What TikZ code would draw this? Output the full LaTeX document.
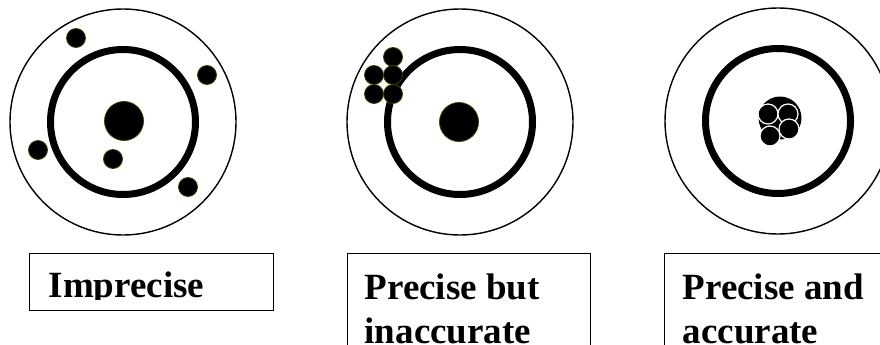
\documentclass[tikz,border=0pt]{standalone}
\usepackage{fontspec}
\setmainfont{Liberation Serif}
\definecolor{rimolive}{HTML}{3F3F00}

\begin{document}
\begin{tikzpicture}[x=1pt, y=-1pt,
    ring/.style={draw, line width=1.4pt},
    bull/.style={draw, line width=7pt},
    centre/.style={circle, fill=black, draw=rimolive, line width=0.8pt, inner sep=0pt, minimum size=39pt},
    shot/.style={circle, fill=black, draw=rimolive, line width=0.8pt, inner sep=0pt, minimum size=19pt},
    hit/.style={circle, fill=black, draw=white, line width=1.2pt, inner sep=0pt, minimum size=20pt},
    tag/.style={draw, line width=1.4pt, inner sep=0pt, anchor=north west},
    lab/.style={anchor=base west, inner sep=0pt, font=\fontsize{37}{44}\selectfont\bfseries}]

  \clip (0,0) rectangle (880,345);

  % three targets
  \coordinate (tgtA) at (123,122);
  \coordinate (tgtB) at (460,122);
  \coordinate (tgtC) at (778,121);
  \foreach \t in {tgtA,tgtB,tgtC} {
    \draw[ring] (\t) circle[radius=113];
    \draw[bull] (\t) circle[radius=72.5];
  }

  % imprecise
  \node[centre] (midA) at (124,121) {};
  \node[shot] (a1) at (76,38) {};
  \node[shot] (a2) at (207,75) {};
  \node[shot] (a3) at (38,150) {};
  \node[shot] (a4) at (113,159) {};
  \node[shot] (a5) at (188,187) {};

  % precise but inaccurate
  \node[centre] (midB) at (459,122) {};
  \node[shot] (b1) at (393,57) {};
  \node[shot] (b2) at (374,75) {};
  \node[shot] (b3) at (393,75) {};
  \node[shot] (b4) at (374,94) {};
  \node[shot] (b5) at (393,94) {};

  % precise and accurate
  \node[centre, draw=none, minimum size=43pt] (midC) at (780,118) {};
  \node[hit] (c1) at (768,114) {};
  \node[hit] (c2) at (788,114) {};
  \node[hit] (c3) at (789,129) {};
  \node[hit] (c4) at (770,136) {};

  % captions
  \node[tag, minimum width=244pt, minimum height=57pt] (boxA) at (29,253) {};
  \node[tag, minimum width=243pt, minimum height=120pt] (boxB) at (347,253) {};
  \node[tag, minimum width=260pt, minimum height=120pt] (boxC) at (664,253) {};

  \begin{scope}
    \clip (29,253) rectangle (273,299.5);
    \node[lab] (labA) at (48.5,297.5) {Imprecise};
  \end{scope}
  \node[lab] (labB1) at (364.5,299.5) {Precise but};
  \node[lab] (labB2) at (364.5,343.5) {inaccurate};
  \node[lab] (labC1) at (682.5,299.5) {Precise and};
  \node[lab] (labC2) at (682.5,343.5) {accurate};
\end{tikzpicture}
\end{document}
